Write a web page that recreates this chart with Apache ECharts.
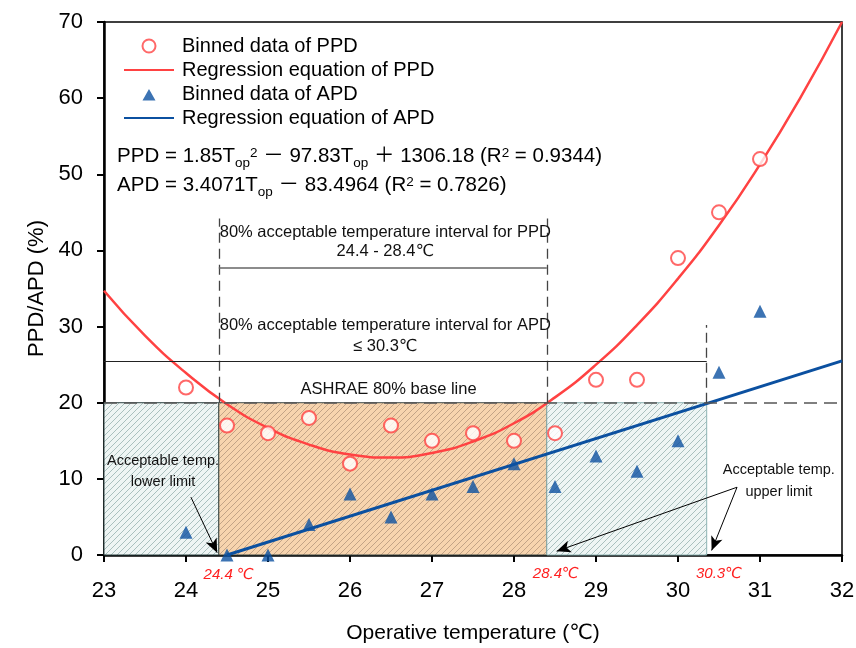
<!DOCTYPE html>
<html>
<head>
<meta charset="utf-8">
<script src="https://cdn.jsdelivr.net/npm/echarts@6/dist/echarts.min.js"></script>
<style>html,body{margin:0;padding:0;background:#fff}#c{width:856px;height:648px}</style>
</head>
<body>
<div id="c"></div>
<script>
// ---- Data ----
const tempBins   = [24, 24.5, 25, 25.5, 26, 26.5, 27, 27.5, 28, 28.5, 29, 29.5, 30, 30.5, 31];
const ppdBinned  = [22, 17, 16, 18, 12, 17, 15, 16, 15, 16, 23, 23, 39, 45, 52];
const apdBinned  = [3, 0, 0, 4, 8, 5, 8, 9, 12, 9, 13, 11, 15, 24, 32];
const ppdFitTemps = [23, 23.5, 24, 24.5, 25, 25.5, 26, 26.5, 27, 27.5, 28, 28.5, 29, 29.5, 30, 30.5, 31, 31.5, 32];
const ppdFit      = [34.7, 28.8, 23.9, 19.8, 16.7, 14.5, 13.2, 12.8, 13.4, 14.9, 17.3, 20.7, 25.0, 30.2, 36.3, 43.3, 51.3, 60.2, 70.0];
const apdFitTemps = [24.5, 32];
const apdFit      = [0, 25.5];
const xTicks = [23, 24, 25, 26, 27, 28, 29, 30, 31, 32];
const yTicks = [0, 10, 20, 30, 40, 50, 60, 70];
const ashraeLimit = 20;
const ppdLower = 24.4, ppdUpper = 28.4, apdUpper = 30.35;
const ppdIntervalLevel = 37.7, apdIntervalLevel = 25.5, dashTop = 44.2, apdDashTop = 30.2;

const FONT = '"Liberation Sans", Arial, "DejaVu Sans", "Noto Sans CJK SC", sans-serif';
const RED = '#ff4242', BLUE = '#0b50a0';
// legend triangle icon padded to the legend item box so it is not stretched
const TRI_ICON = 'path://M0,0L0.01,0M50,13L50.01,13M18.5,13L25,1.5L31.5,13Z';

function hatch(bg, fg) {
  const c = document.createElement('canvas');
  c.width = 6; c.height = 6;
  const g = c.getContext('2d');
  g.fillStyle = bg; g.fillRect(0, 0, 6, 6);
  g.strokeStyle = fg; g.lineWidth = 1;
  g.beginPath();
  g.moveTo(0, 6); g.lineTo(6, 0);
  g.moveTo(-1, 1); g.lineTo(1, -1);
  g.moveTo(5, 7); g.lineTo(7, 5);
  g.stroke();
  return c;
}
const tealHatch = { image: hatch('#eef5f4', '#a9c0be'), repeat: 'repeat' };
const orangeHatch = { image: hatch('#f7d4ae', '#c2a386'), repeat: 'repeat' };

const chart = echarts.init(document.getElementById('c'), null, { renderer: 'canvas' });

const option = {
  animation: false,
  backgroundColor: '#fff',
  grid: { left: 104, right: 14, top: 22, bottom: 93, containLabel: false, outerBoundsMode: 'none',
          show: true, borderColor: '#000', borderWidth: 1.5 },
  legend: {
    data: [
      { name: 'Binned data of PPD', icon: 'emptyCircle' },
      { name: 'Regression equation of PPD', itemStyle: { opacity: 0 } },
      { name: 'Binned data of APD', icon: TRI_ICON },
      { name: 'Regression equation of APD', itemStyle: { opacity: 0 } }
    ],
    orient: 'vertical', left: 118, top: 31, itemWidth: 50, itemHeight: 13, itemGap: 4,
    textStyle: { fontFamily: FONT, fontSize: 20, lineHeight: 20, color: '#000', padding: [0, 0, 0, 3] }
  },
  xAxis: {
    type: 'value', min: xTicks[0], max: xTicks[xTicks.length - 1], interval: 1,
    name: 'Operative temperature (℃)', nameLocation: 'middle', nameGap: 68,
    nameTextStyle: { fontFamily: FONT, fontSize: 21, color: '#000' },
    axisLine: { show: true, lineStyle: { color: '#000', width: 2.5 } },
    axisTick: { show: true, inside: false, length: 7, lineStyle: { color: '#000', width: 2 } },
    axisLabel: { fontFamily: FONT, fontSize: 22, color: '#000', margin: 25 },
    splitLine: { show: false }
  },
  yAxis: {
    type: 'value', min: yTicks[0], max: yTicks[yTicks.length - 1], interval: 10,
    name: 'PPD/APD (%)', nameLocation: 'middle', nameGap: 56, nameRotate: 90,
    nameTextStyle: { fontFamily: FONT, fontSize: 22, color: '#000' },
    axisLine: { show: true, lineStyle: { color: '#000', width: 2.5 } },
    axisTick: { show: true, inside: false, length: 7, lineStyle: { color: '#000', width: 2 } },
    axisLabel: { fontFamily: FONT, fontSize: 22, color: '#000', margin: 21 },
    splitLine: { show: false }
  },
  series: [
    {
      name: 'zones', type: 'line', data: [], silent: true, z: 1,
      markArea: {
        silent: true,
        data: [
          [{ xAxis: xTicks[0], yAxis: 0, itemStyle: { color: tealHatch, borderColor: '#2d4242', borderWidth: 1 } },
           { xAxis: ppdLower, yAxis: ashraeLimit }],
          [{ xAxis: ppdLower, yAxis: 0, itemStyle: { color: orangeHatch, borderColor: '#3d4a48', borderWidth: 1 } },
           { xAxis: ppdUpper, yAxis: ashraeLimit }],
          [{ xAxis: ppdUpper, yAxis: 0, itemStyle: { color: tealHatch, borderColor: '#8db3b3', borderWidth: 1 } },
           { xAxis: apdUpper, yAxis: ashraeLimit }]
        ]
      }
    },
    {
      name: 'refs', type: 'line', data: [], silent: true, z: 2,
      markLine: {
        silent: true, symbol: ['none', 'none'], label: { show: false },
        data: [
          [{ coord: [xTicks[0], ashraeLimit], lineStyle: { color: '#555', width: 1.5, type: [13, 7] } },
           { coord: [xTicks[xTicks.length - 1], ashraeLimit] }],
          [{ coord: [ppdLower, ashraeLimit], lineStyle: { color: '#444', width: 1.3, type: [10, 6] } },
           { coord: [ppdLower, dashTop] }],
          [{ coord: [ppdUpper, ashraeLimit], lineStyle: { color: '#444', width: 1.3, type: [10, 6] } },
           { coord: [ppdUpper, dashTop] }],
          [{ coord: [apdUpper, ashraeLimit], lineStyle: { color: '#444', width: 1.3, type: [10, 5] } },
           { coord: [apdUpper, apdDashTop] }],
          [{ coord: [ppdLower, ppdIntervalLevel], lineStyle: { color: '#666', width: 1.5, type: 'solid' } },
           { coord: [ppdUpper, ppdIntervalLevel] }],
          [{ coord: [xTicks[0], apdIntervalLevel], lineStyle: { color: '#222', width: 1.2, type: 'solid' } },
           { coord: [apdUpper, apdIntervalLevel] }],
          [{ coord: [24.06, 7.6], symbol: 'none', lineStyle: { color: '#000', width: 1, type: 'solid' } },
           { coord: [24.38, 0.3], symbol: 'arrow', symbolSize: [9, 14] }],
          [{ coord: [30.72, 8.9], symbol: 'none', lineStyle: { color: '#000', width: 1, type: 'solid' } },
           { coord: [28.52, 0.5], symbol: 'arrow', symbolSize: [9, 14] }],
          [{ coord: [30.72, 8.9], symbol: 'none', lineStyle: { color: '#000', width: 1, type: 'solid' } },
           { coord: [30.41, 0.6], symbol: 'arrow', symbolSize: [9, 14] }]
        ]
      }
    },
    {
      name: 'Binned data of PPD', type: 'scatter', z: 5,
      data: tempBins.map((t, i) => [t, ppdBinned[i]]),
      symbol: 'emptyCircle', symbolSize: 14,
      itemStyle: { color: RED, borderColor: RED, borderWidth: 1.6 }
    },
    {
      name: 'Regression equation of PPD', type: 'line', z: 4,
      data: ppdFitTemps.map((t, i) => [t, ppdFit[i]]),
      smooth: true, symbol: 'none', showSymbol: false,
      lineStyle: { color: RED, width: 2.5 }, itemStyle: { color: RED }
    },
    {
      name: 'Binned data of APD', type: 'scatter', z: 5,
      data: tempBins.map((t, i) => [t, apdBinned[i]]),
      symbol: 'triangle', symbolSize: 13,
      itemStyle: { color: BLUE }
    },
    {
      name: 'Regression equation of APD', type: 'line', z: 4,
      data: apdFitTemps.map((t, i) => [t, apdFit[i]]),
      symbol: 'none', showSymbol: false,
      lineStyle: { color: BLUE, width: 3 }, itemStyle: { color: BLUE }
    }
  ]
};
chart.setOption(option);

function px(x, y) { return chart.convertToPixel({ gridIndex: 0 }, [x, y]); }
function label(x, y, text, style) {
  const p = px(x, y);
  return { type: 'text', x: p[0], y: p[1], z: 100,
    style: Object.assign({ text: text, fontFamily: FONT, fontSize: 16.5, fill: '#111', align: 'center', verticalAlign: 'middle' }, style || {}) };
}
const eqRich = {
  m:   { fontFamily: FONT, fontSize: 20.5, lineHeight: 24, verticalAlign: 'bottom', padding: [0, 0, 4, 0], fill: '#000' },
  sub: { fontFamily: FONT, fontSize: 13.5, lineHeight: 13, verticalAlign: 'bottom', fill: '#000' },
  sup: { fontFamily: FONT, fontSize: 13.5, lineHeight: 13, verticalAlign: 'top', fill: '#000' }
};
const eq1 = '{m|PPD = 1.85T}{sub|op}{sup|2}{m| － 97.83T}{sub|op}{m| ＋ 1306.18 (R}{sup|2}{m| = 0.9344)}';
const eq2 = '{m|APD = 3.4071T}{sub|op}{m| － 83.4964 (R}{sup|2}{m| = 0.7826)}';
const e1 = px(23.16, 52.1), e2 = px(23.16, 48.3);
const redLbl = { fill: '#ff2020', fontStyle: 'italic', fontSize: 15 };

chart.setOption({
  graphic: [
    { type: 'text', x: e1[0], y: e1[1], z: 100, style: { text: eq1, rich: eqRich, align: 'left', verticalAlign: 'middle' } },
    { type: 'text', x: e2[0], y: e2[1], z: 100, style: { text: eq2, rich: eqRich, align: 'left', verticalAlign: 'middle' } },
    label(26.43, 42.4, '80% acceptable temperature interval for PPD'),
    label(26.43, 39.8, '24.4 - 28.4℃'),
    label(26.43, 30.1, '80% acceptable temperature interval for APD'),
    label(26.43, 27.4, '≤ 30.3℃'),
    label(26.47, 21.8, 'ASHRAE 80% base line'),
    label(23.72, 12.3, 'Acceptable temp.', { fontSize: 14.5 }),
    label(23.72, 9.6, 'lower limit', { fontSize: 14.5 }),
    label(31.23, 11.1, 'Acceptable temp.', { fontSize: 14.5 }),
    label(31.23, 8.3, 'upper limit', { fontSize: 14.5 }),
    label(24.52, -2.6, '24.4 ℃', redLbl),
    label(28.51, -2.5, '28.4℃', redLbl),
    label(30.5, -2.5, '30.3℃', redLbl)
  ]
});
</script>
</body>
</html>
